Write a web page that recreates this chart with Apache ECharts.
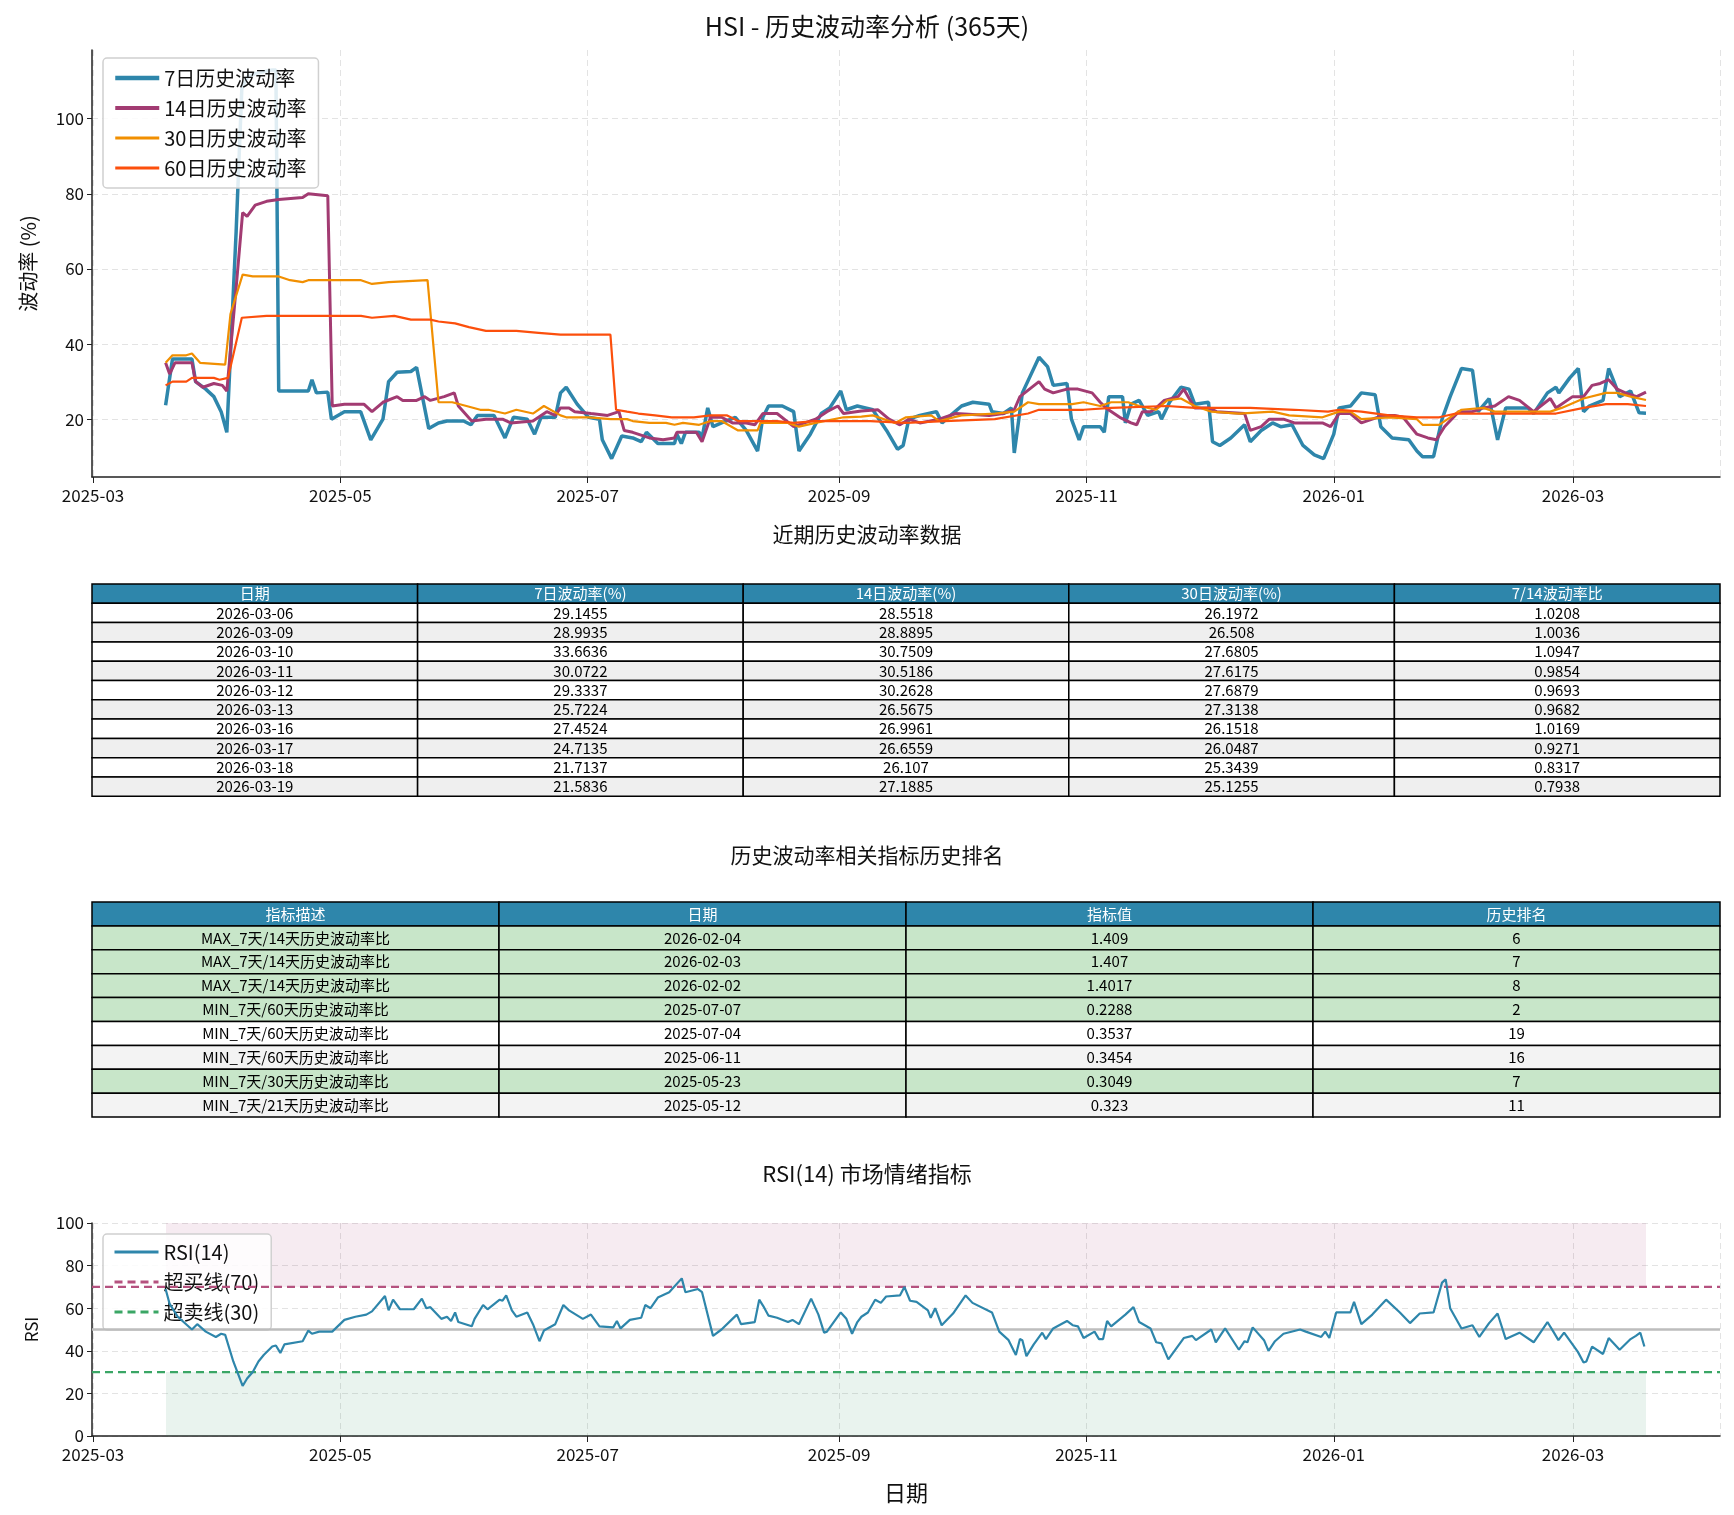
<!DOCTYPE html>
<html><head><meta charset="utf-8">
<script src="https://cdn.jsdelivr.net/npm/echarts@6/dist/echarts.min.js"></script>
<style>html,body{margin:0;padding:0;background:#fff}#c{width:1734px;height:1515px}</style>
</head><body><div id="c"></div>
<script>
// x values: days since 2025-03-01
const vol7 = [[17.9,23.7],[19.6,36],[24.4,36],[25.3,30],[27.8,28],[29.8,26],[31.6,22],[33,16.5],[35.3,70],[36.7,108],[38,111],[40,112],[44.2,113],[45.1,113],[45.8,27.5],[53.1,27.5],[54,30.5],[55.1,27],[57.9,27.2],[58.8,20],[62,22],[66,22],[68.5,14.5],[71.5,20],[72.9,30],[75,32.5],[78.4,32.7],[79.8,33.8],[82.8,17.5],[85.2,19],[87.3,19.5],[91.4,19.5],[93.2,18.5],[94.8,21],[98.9,21],[101.6,15],[103.7,20.5],[107.1,20],[108.9,16],[110.5,20.5],[114,20.5],[115.3,27],[116.7,28.5],[119.4,24],[122.2,20.5],[124.9,20],[125.6,14.5],[127.9,9.5],[130.4,15.5],[133.1,15],[135.2,14],[136.5,16.5],[139.3,13.5],[143.4,13.5],[144,16],[145.1,13.5],[146.1,16.5],[149.5,16.5],[150.2,15],[151.6,23],[152.9,18],[155,19],[158.4,20.5],[161.1,17],[163.9,11.5],[165.2,20.5],[166.6,23.5],[170,23.5],[172.8,22],[174.1,11.5],[176.9,16],[179.6,21.5],[181.7,23],[184.4,27.5],[185.8,22.5],[188.5,23.5],[192.3,22.5],[195.7,17],[198.4,12],[199.8,13],[201.2,20],[203.9,21],[208,22],[209.4,19],[211.5,21],[214.2,23.5],[217,24.5],[221,24],[221.7,22],[224.5,21.5],[226.5,23],[227.2,11],[229.2,27],[233.3,36.5],[235.4,34],[236.8,29],[240.2,29.5],[241.3,20],[243.2,14.5],[244.3,18],[248.4,18],[249.4,16.5],[250.5,26],[253.9,26],[254.6,19],[256,24],[258,25],[260.1,21],[262.8,22],[263.5,20],[265.5,24.5],[268.3,28.5],[270.3,28],[271.7,24],[275.1,24.5],[276.1,14],[277.9,13],[280.6,15],[284,18.5],[285.4,14],[288.1,17],[290.9,19],[292.9,18],[295.7,18.5],[298.4,13],[301.2,10.5],[303.5,9.5],[306,16],[307.3,23],[310.1,23.5],[312.8,27],[316.2,26.5],[317.6,18],[320.4,15],[324.5,14.5],[326.5,11.5],[327.9,10],[330.6,10],[332.7,20],[334.7,26],[337.5,33.5],[340.2,33],[341.6,22],[344.3,25.5],[346.4,14.5],[348.4,23],[353.9,23],[355.3,21.5],[358.7,27],[360.8,28.5],[361.5,27],[364.2,31],[366.3,33.5],[367.6,22],[369,23.5],[372.4,25],[373.8,33.5],[375.1,30],[376.5,26],[379.2,27.5],[381.3,21.7],[383,21.6]];
const vol14 = [[17.9,35],[18.9,32],[20.2,35],[24.4,35],[25.3,30],[27.1,28.5],[29.8,29.5],[31.9,29],[33,27.5],[35.3,55],[36.9,75],[38,74],[40,77],[42.8,78],[45.8,78.5],[51.7,79],[53.1,80],[57.9,79.5],[59,23.5],[62,24],[66.8,24],[68.8,22],[71.5,24.5],[75,26],[76.4,25],[79.8,25],[81.8,26],[83.2,25],[86.6,26],[89.1,27],[90.1,23.5],[93.4,19.5],[96.9,20],[101,20],[103,19],[108.5,19.5],[111.9,22],[114,21],[115.3,23],[117.4,23],[118.8,22],[122.8,21.5],[126.9,21],[129.7,22],[131,17],[133.1,16.5],[137.2,15],[140.6,14.5],[143.4,15],[144,16.5],[148.8,16.5],[150.2,14],[152.3,20.5],[155,20.5],[157.7,19],[161.1,19],[163.2,18.5],[165.2,21.5],[168.7,21.5],[172.8,18],[178.2,20],[181,22],[183.7,23.5],[185.1,21.5],[189.5,22.2],[193.6,22.5],[196.3,20],[199,18.5],[201.2,20],[203.9,19],[208.7,20],[212.8,21.5],[221,21],[224.5,21.5],[227.2,22.5],[228.6,26],[233.3,30],[234.7,28],[236.8,27],[240.2,28],[242.9,28],[246.4,27],[248.4,24.5],[249.8,23],[253.2,20.5],[256,19],[257.4,18.5],[258.8,22],[260.8,22],[262.2,23],[264.2,25],[267.6,26],[269,28],[271.7,23],[275.1,23],[277.1,22],[284,21.5],[285.4,17],[288.1,18],[290.1,20],[293.6,20],[296.3,19],[303.2,19],[305.2,18],[307.3,21.5],[310.1,21.5],[312.8,19],[315.5,20],[318.2,21],[321,21],[323.1,20.5],[326.5,16],[329.2,15],[331.3,14.5],[333.3,18],[336.8,22],[340.2,22],[342.9,23],[345.7,23.5],[349.1,26],[351.8,25],[355.3,22],[359.4,25.5],[360.8,23],[364.9,26],[367.6,26],[369.7,29],[371.7,29.5],[373.8,30.5],[375.9,28],[377.9,27],[380.7,26],[383,27.2]];
const vol30 = [[17.9,35],[19.6,37],[23,37],[24.4,37.5],[26.4,35],[32.6,34.5],[33.9,48],[36.9,58.5],[39.4,58],[45.8,58],[48.6,57],[51.7,56.5],[53.1,57],[66.1,57],[68.8,56],[72.9,56.5],[82.5,57],[85.2,24.5],[88.6,24.5],[92.1,23.5],[95.5,22.5],[97.5,22.5],[101.6,21.5],[104.4,22.5],[108.5,21.5],[111.2,23.5],[115.3,21],[116.7,20.5],[122.2,20.5],[127.7,20],[131.7,20],[133.1,19.5],[137.2,19],[141.3,19],[143.4,18.5],[145.5,19],[149.5,18.5],[152.3,19.5],[155,19.5],[159.1,17],[163.9,17],[164.6,19],[171.4,19],[174.1,18],[178.2,19],[185.1,20.5],[189.5,20.7],[192.3,21],[197.8,19],[200.5,20.5],[206.7,21],[208.7,19.5],[214.2,21],[222.4,21.5],[227.2,22],[230.6,24.5],[233.3,24],[241.5,24],[244.3,24.5],[248.4,23.5],[251.1,24.5],[255.3,24.5],[258,23.5],[262.2,22.5],[264.9,25],[268.3,25.5],[271.7,23.5],[275.8,22],[282.6,21.5],[290.9,22],[295,21],[303.2,20.5],[307.3,22],[310.1,22],[312.8,20],[319.7,20.5],[326.5,20],[327.9,18.5],[332,18.5],[334.7,20.5],[337.5,22.5],[342.9,23],[345.7,22],[359.4,22],[362.2,23],[367.6,25.5],[373.1,27],[375.9,27],[379.2,26],[383,25.1]];
const vol60 = [[17.9,29],[19.6,30],[23,30],[24.4,31],[29.8,31],[31.2,30.5],[33.3,31],[36.7,47],[42.8,47.5],[51.7,47.5],[59.2,47.5],[66.1,47.5],[68.8,47],[74.3,47.5],[78.4,46.5],[83.2,46.5],[85.2,46],[89.3,45.5],[92.7,44.5],[96.9,43.5],[104.4,43.5],[109.9,43],[115.3,42.5],[127.6,42.5],[129,22.5],[131.7,22],[134.5,21.5],[138.6,21],[142.7,20.5],[148.2,20.5],[152.3,21],[156.4,21],[159.1,19.5],[168.7,19.5],[172.8,19],[178.2,19.5],[191.7,19.5],[200.5,19],[210,19.5],[222.4,20],[230.6,21.5],[233.3,22.5],[244.3,22.5],[251.1,23],[264.9,23.5],[271.7,23],[285.4,23],[296.3,22.5],[304.6,22],[307.3,22.5],[312.8,22],[319.7,21],[326.5,20.5],[332,20.5],[336.1,21.5],[340.2,21.5],[360.8,21.5],[367.6,23],[373.1,24],[378.5,24],[383,23.5]];
const rsi14 = [[17.9,69],[18.9,62],[20.9,56],[24.4,50],[25.7,52.5],[27.8,49],[30.3,46.5],[31.6,48],[32.6,47.5],[34.6,35],[36.9,23.5],[38,27],[39.4,30],[40.8,35],[42.1,38],[44.2,42],[45.1,42.5],[46.2,39],[47.2,43],[51.7,44.5],[53.1,49.5],[54,48],[55.8,49],[59,49],[62,54.5],[64.7,56],[67.4,57],[68.8,58.5],[72,65.7],[72.9,59],[74,64],[75.7,59.5],[79.1,59.5],[81.1,64.5],[82.2,60],[83.2,60.5],[85.9,55],[87.3,56],[88.3,54],[89.3,58],[90.1,53.5],[93.4,51.5],[94.1,55],[96.2,61.5],[97.3,59.5],[100.3,64],[101,63.5],[101.9,66],[103.3,59],[104.4,56],[107.1,58],[108.5,52.5],[110.1,44.5],[111.2,49.5],[114,52.5],[116,61.5],[117.4,59],[120.8,55],[122.8,57],[124.9,51.5],[128.3,51],[129.2,54],[130.1,50.5],[132.4,54.5],[135.2,55.5],[136.2,61.5],[137.5,60],[139.3,65],[142.1,67.5],[145.2,74],[146.1,67.5],[149.2,69],[150.2,67.5],[152.9,47],[155,50],[157.7,55],[158.8,57],[159.8,52.5],[163.2,53.5],[164.3,64],[165.3,61],[166.6,56.5],[168.7,55.5],[171.4,53.5],[172.5,54.5],[174.1,52.5],[177.1,64.5],[178.9,57],[180.3,48.5],[181,49],[184.4,58],[185.8,55],[187.2,48],[188.5,53.5],[189.5,56],[191.1,58],[192.9,64],[194.3,62.5],[195.6,65.5],[199,66],[200.1,70],[201.5,63.5],[203.1,63],[205.9,59],[206.6,55.5],[207.7,60],[209.3,52],[212.1,57.5],[215.2,66],[216.9,62.5],[221.7,58],[223.5,49],[225.8,45],[227.6,38],[228.6,45.5],[229.2,45],[230.2,37.5],[232,43],[234.1,48.5],[235,45.5],[236.8,50.5],[240.2,54],[241.6,52],[242.9,51.5],[244.3,46],[247,49],[248.1,45.5],[249.1,45.5],[250.1,54],[251.1,51.5],[254.6,57],[256.6,60.5],[258,53.5],[260.8,50.5],[262.2,44],[263.5,43.5],[265.2,36],[269,46],[271.1,47],[272,45],[275.8,50],[276.9,44],[279.2,50.5],[282.6,40.5],[284,44.5],[284.7,44],[286,51],[288.8,45],[289.9,40],[291.5,44.5],[293.6,48],[297.7,50],[299.1,49],[302.9,46.5],[303.9,49],[304.9,46],[306.6,58],[310.1,58],[311,63],[312.8,52.5],[315.5,57],[318.9,64],[322.3,58],[324.8,53],[327.2,57.5],[330.6,58],[332.7,72],[333.6,73.5],[334.7,60],[337.5,50.5],[340.2,52],[341.9,46.5],[344.3,53],[346.4,57.5],[348.4,45.5],[351.8,48.5],[355.3,44],[358.7,53.5],[360,49.5],[361.4,45],[362.8,48.5],[366.2,39.5],[367.6,34.5],[368.3,35],[369.7,42],[372.4,38.5],[373.8,46],[376.5,40.5],[379.2,45.5],[380.5,47],[381.6,48.5],[382.6,42]];

const t1Header = ['日期','7日波动率(%)','14日波动率(%)','30日波动率(%)','7/14波动率比'];
const t1Dates = ['2026-03-06','2026-03-09','2026-03-10','2026-03-11','2026-03-12','2026-03-13','2026-03-16','2026-03-17','2026-03-18','2026-03-19'];
const t1Vol7 = ['29.1455','28.9935','33.6636','30.0722','29.3337','25.7224','27.4524','24.7135','21.7137','21.5836'];
const t1Vol14 = ['28.5518','28.8895','30.7509','30.5186','30.2628','26.5675','26.9961','26.6559','26.107','27.1885'];
const t1Vol30 = ['26.1972','26.508','27.6805','27.6175','27.6879','27.3138','26.1518','26.0487','25.3439','25.1255'];
const t1Ratio = ['1.0208','1.0036','1.0947','0.9854','0.9693','0.9682','1.0169','0.9271','0.8317','0.7938'];

const t2Header = ['指标描述','日期','指标值','历史排名'];
const t2Desc = ['MAX_7天/14天历史波动率比','MAX_7天/14天历史波动率比','MAX_7天/14天历史波动率比','MIN_7天/60天历史波动率比','MIN_7天/60天历史波动率比','MIN_7天/60天历史波动率比','MIN_7天/30天历史波动率比','MIN_7天/21天历史波动率比'];
const t2Date = ['2026-02-04','2026-02-03','2026-02-02','2025-07-07','2025-07-04','2025-06-11','2025-05-23','2025-05-12'];
const t2Value = ['1.409','1.407','1.4017','0.2288','0.3537','0.3454','0.3049','0.323'];
const t2Rank = ['6','7','8','2','19','16','7','11'];
const t2Highlight = [true,true,true,true,false,false,true,false];

const DAY = 86400000;
const base = new Date(2025,2,1).getTime();
const toT = d => base + d*DAY;
const conv = arr => arr.map(p => [toT(p[0]), p[1]]);
const xMin = toT(18 - 18.25), xMax = toT(383 + 18.25);
const dataStart = toT(18), dataEnd = toT(383);
const FONT = '"Noto Sans CJK SC", "Noto Sans", sans-serif';

function buildTable(top, rowH, cols, rows, rowFills){
  const left = 92, width = 1628, colW = width/cols.length;
  const els = [];
  const all = [cols].concat(rows);
  all.forEach((r, i) => {
    const fill = i === 0 ? '#2e86ab' : rowFills[i-1];
    r.forEach((txt, j) => {
      els.push({type:'rect', shape:{x:left+j*colW, y:top+i*rowH, width:colW, height:rowH},
        style:{fill:fill, stroke:'#000', lineWidth:1.5}, z:10});
      els.push({type:'text', x:left+j*colW+colW/2, y:top+i*rowH+rowH/2,
        style:{text:txt, fill:i===0?'#fff':'#000', font:'15px '+FONT, align:'center', verticalAlign:'middle'}, z:11});
    });
  });
  return els;
}
const t1Rows = t1Dates.map((d,i)=>[d,t1Vol7[i],t1Vol14[i],t1Vol30[i],t1Ratio[i]]);
const t1Fills = t1Dates.map((d,i)=> i%2===0 ? '#ffffff' : '#efefef');
const t2Rows = t2Desc.map((d,i)=>[d,t2Date[i],t2Value[i],t2Rank[i]]);
const t2Fills = t2Desc.map((d,i)=> t2Highlight[i] ? '#c8e6c9' : (i%2===0 ? '#ffffff' : '#f3f3f3'));

const graphics = [].concat(
  buildTable(584, 19.3, t1Header, t1Rows, t1Fills),
  buildTable(902, 23.9, t2Header, t2Rows, t2Fills)
);

const axisLine = {show:true, lineStyle:{color:'#222', width:1.5}};
const splitDash = {show:true, lineStyle:{color:'#e3e3e3', type:[6,4], width:1}};
const xCommon = {
  type:'time', min:xMin, max:xMax, minInterval: 59*DAY, maxInterval: 62*DAY,
  axisLine:axisLine, axisTick:{show:true, length:6, lineStyle:{color:'#222'}},
  axisLabel:{formatter:'{yyyy}-{MM}', color:'#111', fontSize:17, fontFamily:FONT, showMinLabel:false, showMaxLabel:false, margin:10},
  splitLine:splitDash
};
const legendCommon = {orient:'vertical', left:103, itemWidth:44, itemHeight:14, itemGap:10,
  backgroundColor:'rgba(255,255,255,0.85)', borderColor:'#d0d0d0', borderWidth:1.5, borderRadius:4,
  itemStyle:{opacity:0}, textStyle:{fontSize:20, fontFamily:FONT, color:'#111'}};

const chart = echarts.init(document.getElementById('c'), null, {renderer:'canvas'});
chart.setOption({
  animation:false,
  backgroundColor:'#fff',
  title:[
    {text:'HSI - 历史波动率分析 (365天)', left:'center', top:9, textStyle:{fontSize:25, fontWeight:'normal', color:'#111', fontFamily:FONT}},
    {text:'近期历史波动率数据', left:'center', top:519, textStyle:{fontSize:21, fontWeight:'normal', color:'#111', fontFamily:FONT}},
    {text:'历史波动率相关指标历史排名', left:'center', top:840, textStyle:{fontSize:21, fontWeight:'normal', color:'#111', fontFamily:FONT}},
    {text:'RSI(14) 市场情绪指标', left:'center', top:1158, textStyle:{fontSize:22, fontWeight:'normal', color:'#111', fontFamily:FONT}}
  ],
  legend:[
    Object.assign({data:[
      {name:'7日历史波动率', lineStyle:{width:4.5}},
      {name:'14日历史波动率', lineStyle:{width:4}},
      {name:'30日历史波动率', lineStyle:{width:3}},
      {name:'60日历史波动率', lineStyle:{width:3}}], top:58, padding:[10,12,10,10]}, legendCommon),
    Object.assign({data:[
      {name:'RSI(14)', lineStyle:{width:3}},
      {name:'超买线(70)', lineStyle:{width:3}},
      {name:'超卖线(30)', lineStyle:{width:3}}], top:1234, padding:[8,12,8,10]}, legendCommon)
  ],
  grid:[
    {left:92, right:14, top:50, height:427},
    {left:92, right:14, top:1223, height:213}
  ],
  xAxis:[
    Object.assign({gridIndex:0}, xCommon),
    Object.assign({gridIndex:1, name:'日期', nameLocation:'middle', nameGap:46, nameTextStyle:{fontSize:22, fontFamily:FONT, color:'#111'}}, xCommon)
  ],
  yAxis:[
    {gridIndex:0, type:'value', min:4.6, max:118.3, name:'波动率 (%)', nameLocation:'middle', nameGap:54, nameTextStyle:{fontSize:20, fontFamily:FONT, color:'#111'},
     axisLine:axisLine, axisTick:{show:true, customValues:[20,40,60,80,100], lineStyle:{color:'#222'}},
     axisLabel:{customValues:[20,40,60,80,100], fontSize:17, color:'#111', fontFamily:FONT},
     splitLine:{show:false}},
    {gridIndex:1, type:'value', min:0, max:100, interval:20, name:'RSI', nameLocation:'middle', nameGap:52, nameTextStyle:{fontSize:17, fontFamily:FONT, color:'#111'},
     axisLine:axisLine, axisTick:{show:true, lineStyle:{color:'#222'}},
     axisLabel:{fontSize:17, color:'#111', fontFamily:FONT}, splitLine:splitDash}
  ],
  graphic: graphics,
  series:[
    {name:'7日历史波动率', type:'line', xAxisIndex:0, yAxisIndex:0, data:conv(vol7), symbol:'none', lineStyle:{width:3.5, color:'#2e86ab'}, itemStyle:{color:'#2e86ab'}, z:2,
     markLine:{silent:true, symbol:'none', label:{show:false}, lineStyle:{color:'#e3e3e3', type:[6,4], width:1}, data:[{yAxis:20},{yAxis:40},{yAxis:60},{yAxis:80},{yAxis:100}], z:0}},
    {name:'14日历史波动率', type:'line', xAxisIndex:0, yAxisIndex:0, data:conv(vol14), symbol:'none', lineStyle:{width:3, color:'#a23b72'}, itemStyle:{color:'#a23b72'}, z:3},
    {name:'30日历史波动率', type:'line', xAxisIndex:0, yAxisIndex:0, data:conv(vol30), symbol:'none', lineStyle:{width:2.2, color:'#f18f01'}, itemStyle:{color:'#f18f01'}, z:4},
    {name:'60日历史波动率', type:'line', xAxisIndex:0, yAxisIndex:0, data:conv(vol60), symbol:'none', lineStyle:{width:2.2, color:'#fc4f0c'}, itemStyle:{color:'#fc4f0c'}, z:5},
    {name:'RSI(14)', type:'line', xAxisIndex:1, yAxisIndex:1, data:conv(rsi14), symbol:'none', lineStyle:{width:2.2, color:'#2e86ab'}, itemStyle:{color:'#2e86ab'}, z:5,
     markArea:{silent:true, data:[
       [{xAxis:dataStart, yAxis:70, itemStyle:{color:'rgba(162,59,114,0.10)'}},{xAxis:dataEnd, yAxis:100}],
       [{xAxis:dataStart, yAxis:0, itemStyle:{color:'rgba(58,150,100,0.11)'}},{xAxis:dataEnd, yAxis:30}]
     ]},
     markLine:{silent:true, symbol:'none', label:{show:false}, lineStyle:{color:'#bdbdbd', type:'solid', width:2.5}, data:[{yAxis:50}]}},
    {name:'超买线(70)', type:'line', xAxisIndex:1, yAxisIndex:1, data:[[xMin,70],[xMax,70]], symbol:'none', lineStyle:{width:2.2, color:'#b5527f', type:[8,5]}, itemStyle:{color:'#b5527f'}, z:4},
    {name:'超卖线(30)', type:'line', xAxisIndex:1, yAxisIndex:1, data:[[xMin,30],[xMax,30]], symbol:'none', lineStyle:{width:2.2, color:'#3aa665', type:[8,5]}, itemStyle:{color:'#3aa665'}, z:4}
  ]
});
</script></body></html>
